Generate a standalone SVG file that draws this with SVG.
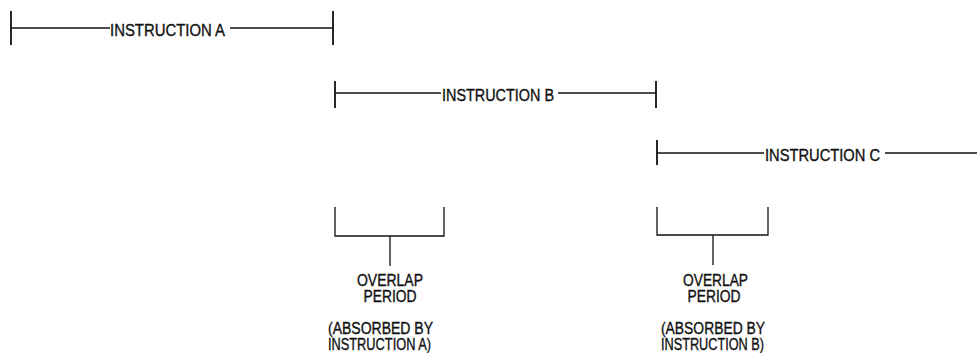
<svg xmlns="http://www.w3.org/2000/svg" width="977" height="353" viewBox="0 0 977 353">
<style>
.ln{stroke:#111;stroke-width:1.3;fill:none}
.tk{stroke:#111;stroke-width:1.8;fill:none}
.lbl{font-family:"Liberation Sans",Arial,sans-serif;font-size:16px;fill:#111;stroke:#111;stroke-width:0.35}
.ov{font-family:"Liberation Sans",Arial,sans-serif;font-size:16px;fill:#111;stroke:#111;stroke-width:0.35;text-anchor:middle}
</style>
<rect width="977" height="353" fill="#fff"/>
<g id="instrA">
<line class="tk" x1="11" y1="11" x2="11" y2="45"/>
<line class="tk" x1="333" y1="11" x2="333" y2="45"/>
<line class="ln" x1="11" y1="28" x2="110" y2="28"/>
<line class="ln" x1="230" y1="28" x2="333" y2="28"/>
<text class="lbl" x="110" y="35.5" textLength="115" lengthAdjust="spacingAndGlyphs">INSTRUCTION A</text>
</g>
<g id="instrB">
<line class="tk" x1="335" y1="81" x2="335" y2="108"/>
<line class="tk" x1="656" y1="81" x2="656" y2="108"/>
<line class="ln" x1="335" y1="93" x2="441" y2="93"/>
<line class="ln" x1="558" y1="93" x2="656" y2="93"/>
<text class="lbl" x="442" y="100.5" textLength="112" lengthAdjust="spacingAndGlyphs">INSTRUCTION B</text>
</g>
<g id="instrC">
<line class="tk" x1="657" y1="140" x2="657" y2="165"/>
<line class="ln" x1="657" y1="153" x2="764" y2="153"/>
<line class="ln" x1="885" y1="153" x2="977" y2="153"/>
<text class="lbl" x="765" y="160.5" textLength="115" lengthAdjust="spacingAndGlyphs">INSTRUCTION C</text>
</g>
<g id="overlapA">
<polyline class="ln" points="335,207 335,236 444,236 444,207"/>
<line class="ln" x1="390" y1="236" x2="390" y2="266"/>
<text class="ov" x="390" y="286" textLength="66" lengthAdjust="spacingAndGlyphs">OVERLAP</text>
<text class="ov" x="390" y="301.5" textLength="53" lengthAdjust="spacingAndGlyphs">PERIOD</text>
<text class="ov" x="380.5" y="334" textLength="105" lengthAdjust="spacingAndGlyphs">(ABSORBED BY</text>
<text class="ov" x="379.5" y="349.5" textLength="103" lengthAdjust="spacingAndGlyphs">INSTRUCTION A)</text>
</g>
<g id="overlapB">
<polyline class="ln" points="657,207 657,235 768,235 768,207"/>
<line class="ln" x1="713" y1="235" x2="713" y2="265"/>
<text class="ov" x="715.5" y="286" textLength="65" lengthAdjust="spacingAndGlyphs">OVERLAP</text>
<text class="ov" x="714" y="301.5" textLength="53" lengthAdjust="spacingAndGlyphs">PERIOD</text>
<text class="ov" x="713" y="334" textLength="104" lengthAdjust="spacingAndGlyphs">(ABSORBED BY</text>
<text class="ov" x="712.5" y="349.5" textLength="103" lengthAdjust="spacingAndGlyphs">INSTRUCTION B)</text>
</g>
<g id="connectors"></g>
</svg>
